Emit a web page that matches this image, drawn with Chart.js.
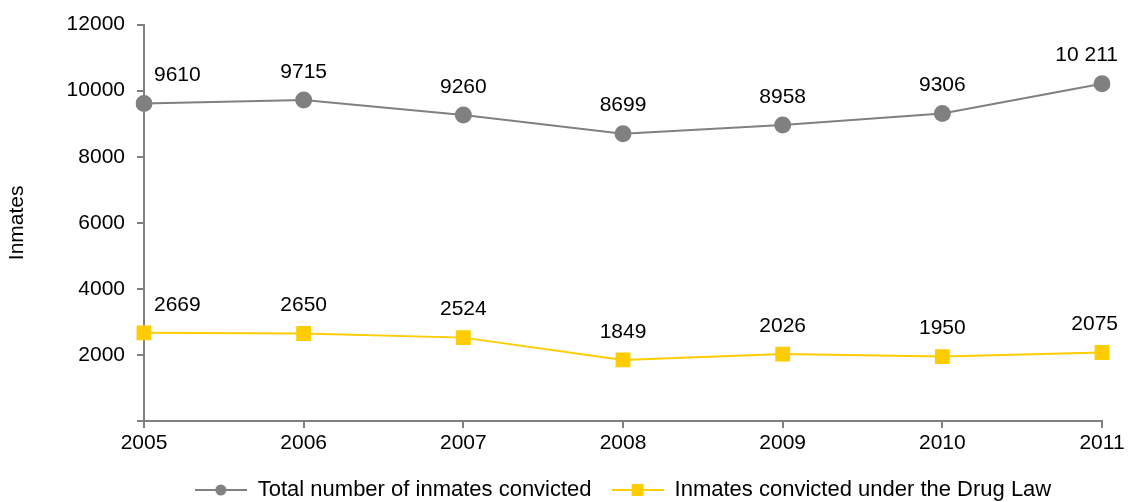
<!DOCTYPE html>
<html>
<head>
<meta charset="utf-8">
<script src="https://cdn.jsdelivr.net/npm/chart.js@4.4.0/dist/chart.umd.min.js"></script>
<style>
  html, body { margin: 0; padding: 0; background: #fff; }
  #wrap { width: 1128px; height: 502px; }
</style>
</head>
<body>
<div id="wrap"><canvas id="myChart" width="1128" height="502"></canvas></div>
<script>
var years = ["2005","2006","2007","2008","2009","2010","2011"];
var totalInmates = [9610, 9715, 9260, 8699, 8958, 9306, 10211];
var drugLawInmates = [2669, 2650, 2524, 1849, 2026, 1950, 2075];
var seriesNames = ["Total number of inmates convicted", "Inmates convicted under the Drug Law"];
var yTicks = [0, 2000, 4000, 6000, 8000, 10000, 12000];

var GREY = "#808080";
var YELLOW = "#FFCC00";
var FONT = '"Liberation Sans", Arial, sans-serif';

Chart.defaults.font.family = FONT;
Chart.defaults.font.size = 21;
Chart.defaults.color = "#000";

// 10211 -> "10 211", shorter numbers stay as they are
function fmt(v){
  if(v >= 10000) return String(v).replace(/\B(?=(\d{3})+(?!\d))/g, " ");
  return String(v);
}

// small line+marker picture for the legend entries
function legendIcon(color, shape){
  var c = document.createElement("canvas");
  c.width = 52;
  c.height = 20;
  var g = c.getContext("2d");
  g.strokeStyle = color;
  g.lineWidth = 2;
  g.beginPath();
  g.moveTo(0, 10);
  g.lineTo(52, 10);
  g.stroke();
  g.fillStyle = color;
  if(shape == "circle"){
    g.beginPath();
    g.arc(26, 10, 5.5, 0, Math.PI*2);
    g.fill();
  }
  else{
    g.fillRect(20, 4, 12, 12);
  }
  return c;
}
var icons = [legendIcon(GREY, "circle"), legendIcon(YELLOW, "rect")];

var valueLabels = {
  id: "valueLabels",
  afterDatasetsDraw: function(chart){
    var ctx = chart.ctx, area = chart.chartArea;
    ctx.save();
    ctx.font = "21px " + FONT;
    ctx.fillStyle = "#000";
    ctx.textAlign = "center";
    ctx.textBaseline = "middle";
    chart.data.datasets.forEach(function(ds, i){
      chart.getDatasetMeta(i).data.forEach(function(pt, j){
        var text = fmt(ds.data[j]);
        var w = ctx.measureText(text).width;
        var x = pt.x;
        x = Math.max(x, area.left + 10 + w/2);
        x = Math.min(x, chart.width - 10 - w/2);
        ctx.fillText(text, x, pt.y - 28);
      });
    });
    ctx.restore();
  }
};

var ctx = document.getElementById("myChart").getContext("2d");
var chart = new Chart(ctx, {
  type: "line",
  data: {
    labels: years,
    datasets: [{
      label: seriesNames[0],
      data: totalInmates,
      borderColor: GREY,
      backgroundColor: GREY,
      borderWidth: 2,
      pointStyle: "circle",
      pointRadius: 8.5,
      pointHoverRadius: 8.5,
      pointBorderWidth: 0,
      lineTension: 0,
      fill: false
    }, {
      label: seriesNames[1],
      data: drugLawInmates,
      borderColor: YELLOW,
      backgroundColor: YELLOW,
      borderWidth: 2,
      pointStyle: "rect",
      pointRadius: 10.5,
      pointHoverRadius: 10.5,
      pointBorderWidth: 0,
      lineTension: 0,
      fill: false
    }]
  },
  options: {
    responsive: false,
    animation: false,
    layout: { padding: { top: 22, right: 26, left: 0, bottom: -9 } },
    plugins: {
      tooltip: { enabled: false },
      legend: {
        position: "bottom",
        fullSize: false,
        labels: {
          usePointStyle: true,
          pointStyleWidth: 52,
          padding: 20,
          color: "#000",
          font: { size: 22 },
          generateLabels: function(chart){
            return chart.data.datasets.map(function(ds, i){
              return {
                text: ds.label,
                pointStyle: icons[i],
                fillStyle: ds.borderColor,
                strokeStyle: ds.borderColor,
                lineWidth: 0,
                hidden: false,
                datasetIndex: i
              };
            });
          }
        }
      }
    },
    scales: {
      x: {
        type: "category",
        offset: false,
        grid: { drawOnChartArea: false, drawTicks: true, tickLength: 7, color: GREY, lineWidth: 2 },
        border: { display: true, color: GREY, width: 2 },
        ticks: { padding: 3, color: "#000", maxRotation: 0, autoSkip: false },
        afterFit: function(s){ s.height = 38; }
      },
      y: {
        min: 0,
        max: 12000,
        afterBuildTicks: function(s){ s.ticks = yTicks.map(function(v){ return { value: v }; }); },
        grid: { drawOnChartArea: false, drawTicks: true, tickLength: 7, color: GREY, lineWidth: 2 },
        border: { display: true, color: GREY, width: 2 },
        ticks: {
          padding: 12,
          color: "#000",
          callback: function(v){ return v == 0 ? "" : String(v); }
        },
        title: { display: true, text: "Inmates", color: "#000", font: { size: 21 }, padding: { top: 5, bottom: 0 } },
        afterFit: function(s){ s.width = 144; }
      }
    }
  },
  plugins: [valueLabels]
});
</script>
</body>
</html>
